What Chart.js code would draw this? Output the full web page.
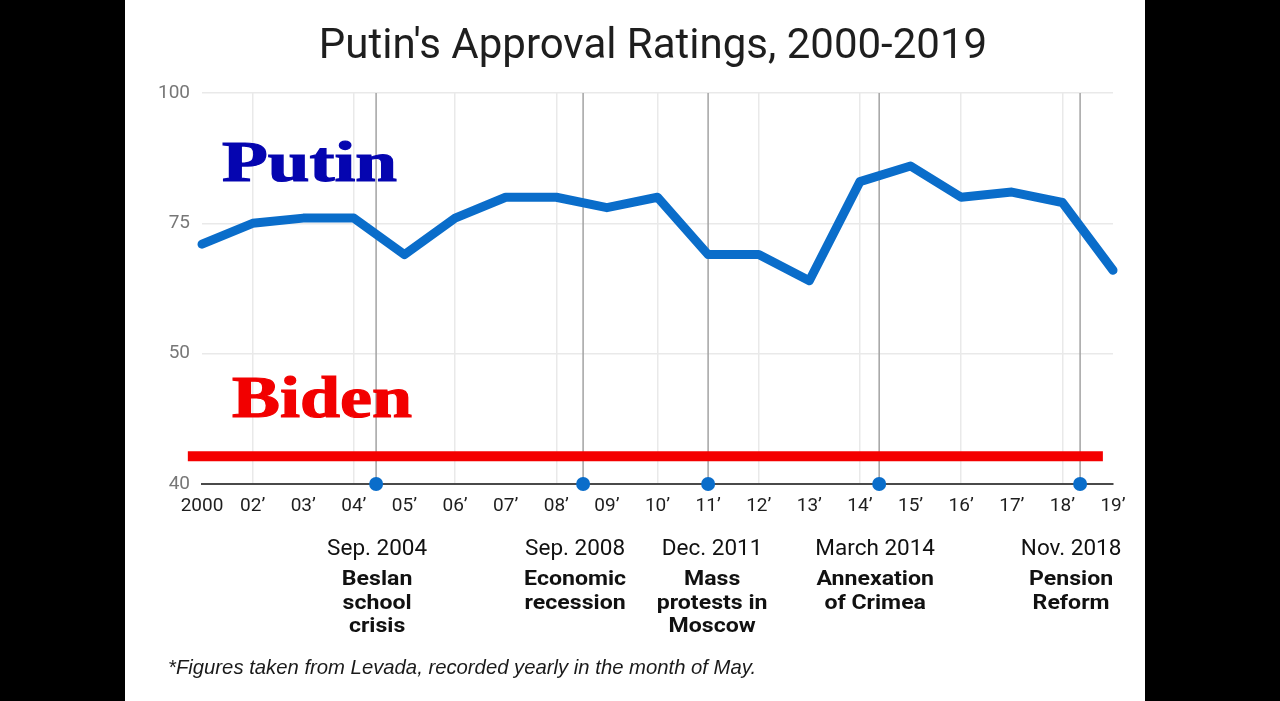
<!DOCTYPE html>
<html>
<head>
<meta charset="utf-8">
<title>Putin's Approval Ratings, 2000-2019</title>
<script src="https://cdn.jsdelivr.net/npm/chart.js@4.4.0/dist/chart.umd.min.js"></script>
<style>
  html, body { margin: 0; padding: 0; background: #000; }
  #panel { position: absolute; left: 125px; top: 0; width: 1020px; height: 701px; background: #fff; }
</style>
</head>
<body>
<div id="panel"><canvas id="approval-chart" width="1020" height="701"></canvas></div>
<script>
// x positions are point indexes (one per yearly May poll)
const yearLabels = ['2000', '02’', '03’', '04’', '05’', '06’', '07’', '08’', '09’', '10’',
                    '11’', '12’', '13’', '14’', '15’', '16’', '17’', '18’', '19’'];
const putinApproval = [71, 75, 76, 76, 69, 76, 80, 80, 78, 80, 69, 69, 64, 83, 86, 80, 81, 79, 66];

// y axis runs 25..100 on the scale, the bottom tick is printed as "40"
const yTickValues = [25, 50, 75, 100];
const yTickLabels = ['40', '50', '75', '100'];

// the red "Biden" bar
const bidenLevel = 30.3;
const bidenSpan = [-0.28, 17.8];

// events along the axis
const eventPositions = [3.44, 7.53, 10.0, 13.38, 17.35];
const eventDates = ['Sep. 2004', 'Sep. 2008', 'Dec. 2011', 'March 2014', 'Nov. 2018'];
const eventNotes = [
    ['Beslan', 'school', 'crisis'],
    ['Economic', 'recession'],
    ['Mass', 'protests in', 'Moscow'],
    ['Annexation', 'of Crimea'],
    ['Pension', 'Reform']
];
const chartTitle = "Putin's Approval Ratings, 2000-2019";
const footnote = '*Figures taken from Levada, recorded yearly in the month of May.';

const LINE_BLUE = '#0a6dca';
const GRID = '#e9e9e9';
// captions sit a little off their dots in the original
const captionShift = [1, -8, 4, -4, -9];

// vertical event lines, one small dataset each
const eventLineSets = eventPositions.map(pos => ({
    data: [{ x: pos, y: yTickValues[0] }, { x: pos, y: yTickValues[yTickValues.length - 1] }],
    borderColor: '#a3a3a3',
    borderWidth: 1.5,
    pointRadius: 0,
    clip: false
}));

// text drawn on the canvas: title, event captions, footnote, the two big names
const captionPlugin = {
    id: 'captions',
    afterDraw(chart) {
        const { ctx, scales: { x } } = chart;
        ctx.save();
        ctx.textBaseline = 'alphabetic';

        ctx.textAlign = 'center';
        ctx.fillStyle = '#1e1e1e';
        ctx.font = '42px Roboto';
        ctx.fillText(chartTitle, 528, 58);

        ctx.fillStyle = '#111';
        eventPositions.forEach((pos, i) => {
            const px = x.getPixelForValue(pos) + captionShift[i];
            ctx.font = '22.5px Roboto';
            ctx.fillText(eventDates[i], px, 555);
            ctx.font = 'bold 21px Roboto';
            eventNotes[i].forEach((line, j) => {
                ctx.save();
                ctx.translate(px, 585 + j * 23.5);
                ctx.scale(1.1, 1);
                ctx.fillText(line, 0, 0);
                ctx.restore();
            });
        });

        ctx.textAlign = 'left';
        ctx.fillStyle = '#1a1a1a';
        ctx.font = 'italic 20.3px "Liberation Sans"';
        ctx.fillText(footnote, 43, 674);

        // stretched serif names
        const bigName = (text, left, base, width, size, color) => {
            ctx.font = `bold ${size}px "Liberation Serif"`;
            const w = ctx.measureText(text).width;
            ctx.save();
            ctx.translate(left, base);
            ctx.scale(width / w, 1);
            ctx.fillStyle = color;
            ctx.strokeStyle = color;
            ctx.lineWidth = 1.2;
            ctx.fillText(text, 0, 0);
            ctx.strokeText(text, 0, 0);
            ctx.restore();
        };
        bigName('Putin', 97, 181, 175, 56, '#0505b0');
        bigName('Biden', 107, 417, 180, 60, '#f20000');
        ctx.restore();
    }
};

const ctx = document.getElementById('approval-chart');
new Chart(ctx, {
    type: 'line',
    data: {
        datasets: [
            {
                label: 'Putin',
                data: putinApproval.map((v, i) => ({ x: i, y: v })),
                borderColor: LINE_BLUE,
                borderWidth: 9,
                borderJoinStyle: 'round',
                borderCapStyle: 'round',
                pointRadius: 0,
                tension: 0,
                clip: false
            },
            {
                label: 'Events',
                data: eventPositions.map(pos => ({ x: pos, y: yTickValues[0] })),
                showLine: false,
                pointRadius: 7,
                pointBackgroundColor: LINE_BLUE,
                pointBorderWidth: 0,
                clip: false
            },
            {
                label: 'Biden',
                data: bidenSpan.map(pos => ({ x: pos, y: bidenLevel })),
                borderColor: '#f40000',
                borderWidth: 10,
                borderCapStyle: 'butt',
                pointRadius: 0,
                clip: false
            },
            ...eventLineSets
        ]
    },
    options: {
        responsive: false,
        animation: false,
        events: [],
        layout: { padding: { top: 93, right: 32, bottom: 0, left: 0 } },
        plugins: {
            legend: { display: false },
            tooltip: { enabled: false },
            title: { display: false }
        },
        scales: {
            x: {
                type: 'linear',
                min: 0,
                max: yearLabels.length - 1,
                afterBuildTicks: s => { s.ticks = yearLabels.map((_, i) => ({ value: i })); },
                afterFit: s => { s.height = 217; },
                grid: {
                    drawTicks: false,
                    lineWidth: 1.5,
                    color: c => (c.tick && c.tick.value % 2 === 1) ? GRID : 'rgba(0,0,0,0)'
                },
                border: { color: '#4a4a4a', width: 2 },
                ticks: {
                    autoSkip: false,
                    maxRotation: 0,
                    padding: 11,
                    color: '#1e1e1e',
                    font: { family: 'Roboto', size: 19 },
                    callback: v => yearLabels[v]
                }
            },
            y: {
                min: yTickValues[0],
                max: yTickValues[yTickValues.length - 1],
                afterBuildTicks: s => { s.ticks = yTickValues.map(v => ({ value: v })); },
                afterFit: s => { s.width = 77; },
                grid: {
                    drawTicks: false,
                    lineWidth: 1.5,
                    color: c => (c.tick && c.tick.value === yTickValues[0]) ? 'rgba(0,0,0,0)' : GRID
                },
                border: { display: false },
                ticks: {
                    padding: 12,
                    color: '#777',
                    font: { family: 'Roboto', size: 19 },
                    callback: v => yTickLabels[yTickValues.indexOf(v)]
                }
            }
        }
    },
    plugins: [captionPlugin]
});
</script>
</body>
</html>
